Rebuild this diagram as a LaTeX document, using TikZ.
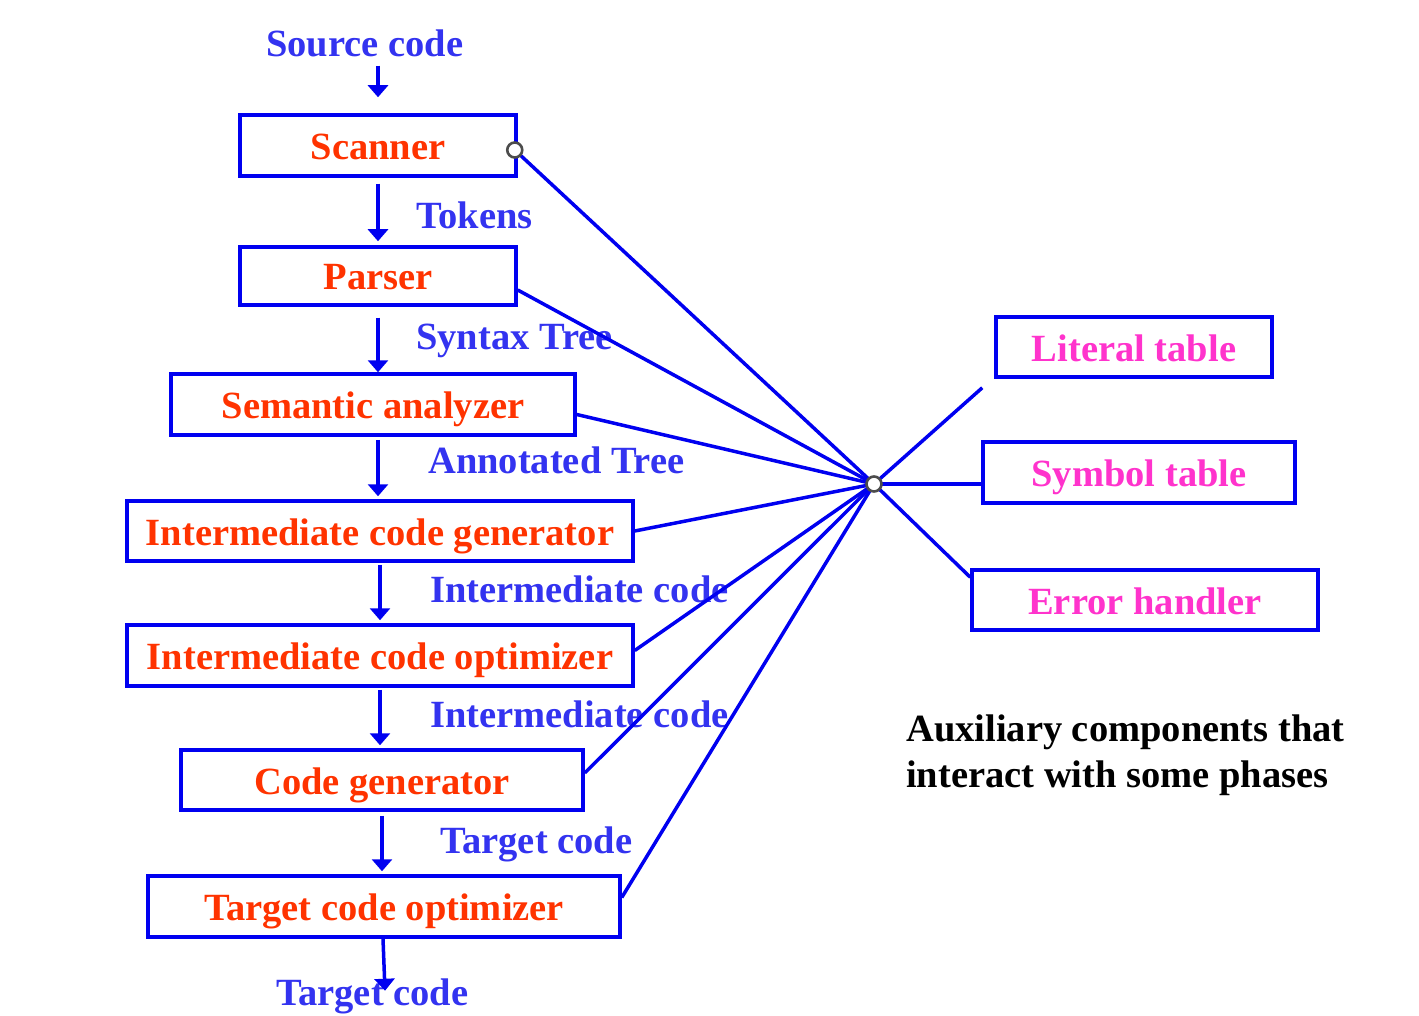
\documentclass[tikz,border=0pt]{standalone}
\usepackage{fontspec}
\setmainfont{Liberation Serif}
\usetikzlibrary{arrows.meta,calc}
\definecolor{lineblue}{RGB}{0,0,240}
\definecolor{lblblue}{RGB}{51,51,240}
\definecolor{phasered}{RGB}{255,51,0}
\definecolor{auxpink}{RGB}{255,51,204}
\newcommand{\bigfont}{\fontsize{38.5}{46}\selectfont\bfseries}
\tikzset{
  phase/.style={draw=lineblue, line width=3.5pt, text=phasered, inner sep=0pt,
    text height=28pt, text depth=0pt, font=\bigfont},
  auxbox/.style={phase, text=auxpink},
  lbl/.style={text=lblblue, anchor=base west, inner sep=0pt, font=\bigfont},
  note/.style={text=black, anchor=base west, inner sep=0pt, font=\bigfont},
  conn/.style={draw=lineblue, line width=3.5pt},
  flow/.style={draw=lineblue, line width=3.5pt, -{Triangle[width=20pt,length=12pt]}},
  hubdot/.style={circle, draw=gray!60!black, fill=white, line width=2.6pt,
    minimum size=15pt, inner sep=0pt},
}
\begin{document}
\begin{tikzpicture}[x=1pt,y=-1pt]
\useasboundingbox (0,0) rectangle (1419,1016);
% phase boxes
\node[phase, minimum width=276pt, minimum height=61pt] (scan)  at (378,145.5) {Scanner};
\node[phase, minimum width=276pt, minimum height=58pt] (parse) at (378,276) {Parser};
\node[phase, minimum width=404pt, minimum height=61pt] (sem)   at (373,404.5) {Semantic analyzer};
\node[phase, minimum width=506pt, minimum height=60pt] (icg)   at (380,531) {Intermediate code generator};
\node[phase, minimum width=506pt, minimum height=61pt] (ico)   at (380,655.5) {Intermediate code optimizer};
\node[phase, minimum width=402pt, minimum height=60pt] (cg)    at (382,780) {Code generator};
\node[phase, minimum width=472pt, minimum height=61pt] (tco)   at (384,906.5) {Target code optimizer};
% auxiliary boxes
\node[auxbox, minimum width=276pt, minimum height=60pt] (lit) at (1134,347) {Literal table};
\node[auxbox, minimum width=312pt, minimum height=61pt] (sym) at (1139,472.5) {Symbol table};
\node[auxbox, minimum width=346pt, minimum height=60pt] (err) at (1145,600) {Error handler};
% labels
\node[lbl] (src)  at (266,57)  {Source code};
\node[lbl] (tok)  at (416,229) {Tokens};
\node[lbl] (syn)  at (416,349) {Syntax Tree};
\node[lbl] (ann)  at (428,473) {Annotated Tree};
\node[lbl] (ic1)  at (430,602) {Intermediate code};
\node[lbl] (ic2)  at (430,727) {Intermediate code};
\node[lbl] (tc1)  at (440,853) {Target code};
\node[lbl] (out)  at (276,1005) {Target code};
\node[note] (aux1) at (906,741) {Auxiliary components that};
\node[note] (aux2) at (906,787) {interact with some phases};
% flow arrows
\draw[flow] (src.south -| scan.north) ++(0,8) -- ($(scan.north)+(0,-16)$);
\draw[flow] ($(scan.south)+(0,6)$) -- ($(parse.north)+(0,-4)$);
\draw[flow] ($(parse.south)+(0,11)$) -- ($(sem.north)+(5,0)$);
\draw[flow] ($(sem.south)+(5,3)$) -- ($(icg.north)+(-2,-3)$);
\draw[flow] ($(icg.south)+(0,2)$) -- ($(ico.north)+(0,-3)$);
\draw[flow] ($(ico.south)+(0,2)$) -- ($(cg.north)+(-2,-3)$);
\draw[flow] ($(cg.south)+(0,4)$) -- ($(tco.north)+(-2,-3)$);
\draw[flow] ($(tco.south)+(-1,0)$) -- ($(tco.south)+(1,52)$);
% hub connectors
\coordinate (hub) at (874,484);
\coordinate (scanpt) at ($(scan.east)+(-3,4.5)$);
\coordinate (litend) at ($(lit.south west)+(-12,9)$);
\draw[conn] (hub) -- (scanpt);
\draw[conn] (hub) -- ($(parse.east)+(0,14)$);
\draw[conn] (hub) -- ($(sem.east)+(0,10)$);
\draw[conn] (hub) -- (icg.east);
\draw[conn] (hub) -- ($(ico.east)+(0,-5)$);
\draw[conn] (hub) -- ($(cg.east)+(0,-7)$);
\draw[conn] (hub) -- ($(tco.east)+(0,-9)$);
\draw[conn] (hub) -- (litend);
\draw[conn] (hub) -- (hub -| sym.west);
\draw[conn] (hub) -- ($(err.north west)+(0,9)$);
\node[hubdot] (hubring) at (hub) {};
\node[hubdot] (scanring) at (scanpt) {};
\end{tikzpicture}
\end{document}
